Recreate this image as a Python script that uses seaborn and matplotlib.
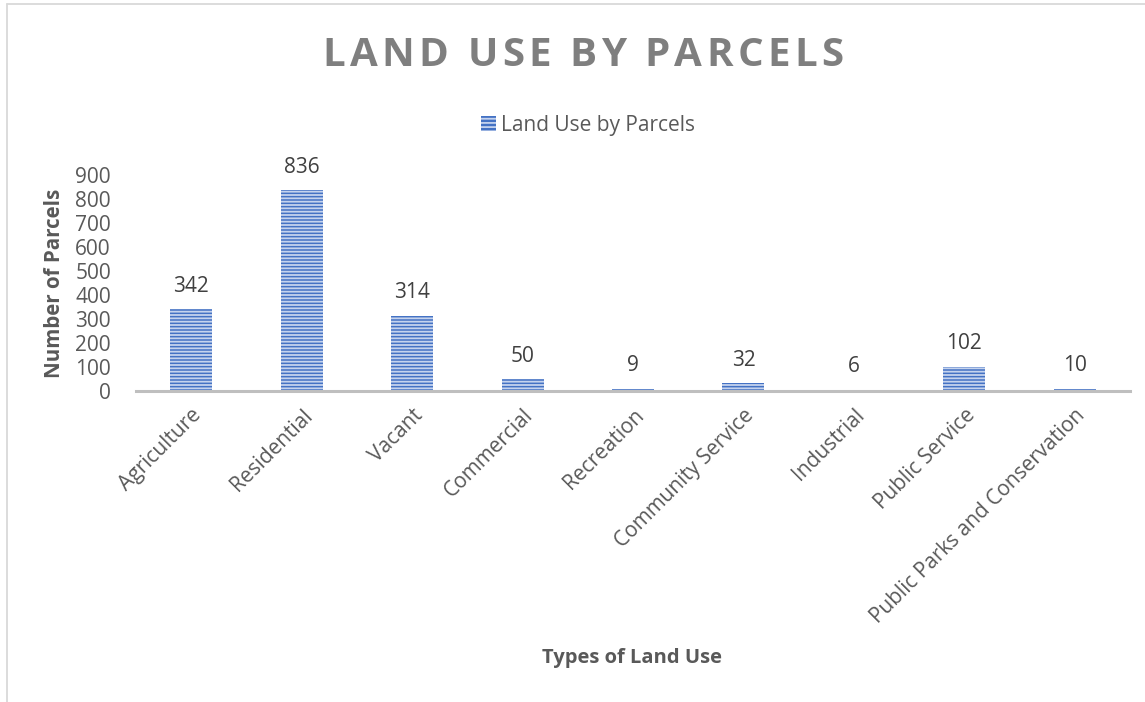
import matplotlib
matplotlib.use("Agg")
import matplotlib.pyplot as plt
from matplotlib.patches import Patch
from matplotlib.lines import Line2D
import seaborn as sns
import pandas as pd

# Parcel counts per land-use type
land_use_types = [
    "Agriculture", "Residential", "Vacant", "Commercial", "Recreation",
    "Community Service", "Industrial", "Public Service",
    "Public Parks and Conservation",
]
parcel_counts = [342, 836, 314, 50, 9, 32, 6, 102, 10]
y_ticks = [0, 100, 200, 300, 400, 500, 600, 700, 800, 900]

title_text = "LAND USE BY PARCELS"
series_name = "Land Use by Parcels"
x_title = "Types of Land Use"
y_title = "Number of Parcels"

BAR_BLUE = "#4472C4"
STRIPE = "#C5D3EE"
TEXT_GRAY = "#595959"
LABEL_DARK = "#404040"
AXIS_GRAY = "#BFBFBF"

W, H = 1145, 702

sns.set_theme(style="white")
plt.rcParams["font.family"] = ["Open Sans", "DejaVu Sans"]
plt.rcParams["hatch.linewidth"] = 1.3

df = pd.DataFrame({"type": land_use_types, "count": parcel_counts})

fig = plt.figure(figsize=(W / 100, H / 100), dpi=100)
ax = fig.add_axes([136 / W, 1 - 391 / H, (1130 - 136) / W, (391 - 175) / H])

sns.barplot(data=df, x="type", y="count", color=BAR_BLUE, width=0.38,
            saturation=1, ax=ax)

for bar in ax.patches:
    bar.set_facecolor(BAR_BLUE)
    bar.set_edgecolor(STRIPE)
    bar.set_hatch("-----")
    bar.set_linewidth(0)

# value labels above each bar
for bar, v in zip(ax.patches, parcel_counts):
    ax.annotate(f"{v}", (bar.get_x() + bar.get_width() / 2, v),
                xytext=(0, 16.5), textcoords="offset points",
                ha="center", va="center", fontsize=15, color=LABEL_DARK,
                annotation_clip=False)

ax.set_ylim(0, 900)
ax.set_xlim(-0.5, len(land_use_types) - 0.5)
ax.set_yticks(y_ticks)
ax.set_yticklabels([str(t) for t in y_ticks], fontsize=15, color=TEXT_GRAY)
ax.tick_params(axis="y", length=0, pad=18)
ax.tick_params(axis="x", length=0, pad=10)
ax.set_xticks(range(len(land_use_types)))
ax.set_xticklabels(land_use_types, rotation=45, ha="right",
                   rotation_mode="anchor", fontsize=15, color=TEXT_GRAY)

for side in ("top", "right", "left"):
    ax.spines[side].set_visible(False)
ax.spines["bottom"].set_color(AXIS_GRAY)
ax.spines["bottom"].set_linewidth(2.2)

ax.set_xlabel("")
ax.set_ylabel("")
fig.text(632 / W, 1 - 658 / H, x_title, ha="center", va="center",
         fontsize=14.5, fontweight="bold", color=TEXT_GRAY)
fig.text(55 / W, 1 - 283 / H, y_title, ha="center", va="center",
         rotation=90, fontsize=14.8, fontweight="bold", color=TEXT_GRAY)

# letter-spaced chart title, placed one glyph at a time
renderer = fig.canvas.get_renderer()
title_kw = dict(fontsize=29, fontweight="bold", color="#7F7F7F",
                va="center", ha="left")
glyphs = [fig.text(0, 0, ch, **title_kw) for ch in title_text]
widths = []
for g in glyphs:
    if g.get_text() == " ":
        widths.append(10.0)
    else:
        widths.append(g.get_window_extent(renderer).width)
tracking = 4.3
total = sum(widths) + tracking * (len(glyphs) - 1)
x = 583 - total / 2
for g, w in zip(glyphs, widths):
    g.set_position((x / W, 1 - 56 / H))
    x += w + tracking

handle = Patch(facecolor=BAR_BLUE, edgecolor=STRIPE, hatch="----", linewidth=0)
fig.legend(handles=[handle], labels=[series_name], loc="center",
           bbox_to_anchor=(588 / W, 1 - 125 / H), frameon=False,
           fontsize=15, labelcolor=TEXT_GRAY, handlelength=0.7,
           handleheight=0.7, handletextpad=0.25)

# chart-area frame
fig.add_artist(Line2D([7 / W, 1.0], [1 - 4 / H, 1 - 4 / H],
                      color="#D9D9D9", linewidth=1.3))
fig.add_artist(Line2D([7 / W, 7 / W], [1 - 4 / H, 0.0],
                      color="#D9D9D9", linewidth=1.3))

fig.savefig("out.png", dpi=100, facecolor="white")
